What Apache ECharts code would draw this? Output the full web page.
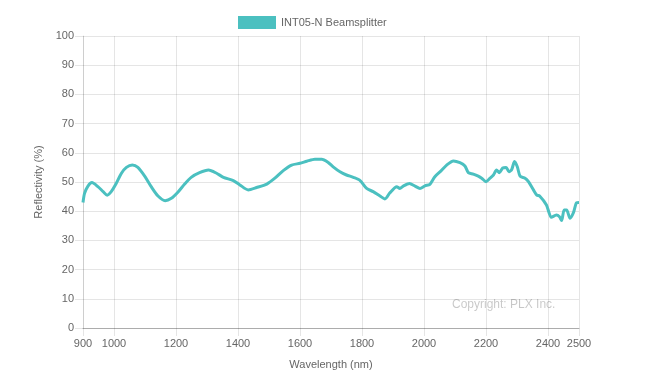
<!DOCTYPE html>
<html>
<head>
<meta charset="utf-8">
<title>INT05-N Beamsplitter</title>
<script src="https://cdn.jsdelivr.net/npm/echarts@6/dist/echarts.min.js"></script>
<style>
  html, body { margin: 0; padding: 0; background: #fff; }
  #chart { width: 654px; height: 388px; }
</style>
</head>
<body>
<div id="chart"></div>
<script>
// wavelength (nm) and reflectivity (%)
const wavelengths = [
  900, 905, 916, 929, 948, 965, 978, 991, 1007, 1024, 1040, 1059, 1077, 1099,
  1120, 1142, 1165, 1185, 1206, 1228, 1249, 1276, 1305, 1331, 1353, 1385, 1406,
  1433, 1460, 1493, 1519, 1546, 1573, 1600, 1622, 1648, 1670, 1690, 1707, 1729,
  1750, 1772, 1794, 1815, 1836, 1858, 1874, 1890, 1912, 1922, 1933, 1953, 1971,
  1987, 2003, 2019, 2035, 2055, 2073, 2095, 2116, 2132, 2143, 2159, 2175, 2186,
  2200, 2213, 2224, 2234, 2243, 2254, 2265, 2274, 2283, 2292, 2301, 2310, 2326,
  2337, 2353, 2364, 2373, 2395, 2411, 2427, 2437, 2444, 2452, 2460, 2471, 2482,
  2492, 2500
];
const reflectivity = [
  43.0, 46.1, 48.6, 49.8, 48.4, 46.7, 45.5, 46.7, 49.5, 53.0, 55.0, 55.8, 55.0, 52.0,
  48.4, 45.2, 43.6, 44.4, 46.5, 49.3, 51.6, 53.2, 54.1, 53.0, 51.6, 50.5, 49.0,
  47.3, 48.1, 49.3, 51.3, 53.9, 55.8, 56.4, 57.1, 57.8, 57.8, 56.8, 55.2, 53.5,
  52.4, 51.6, 50.5, 47.8, 46.7, 45.2, 44.2, 46.3, 48.4, 47.8, 48.6, 49.5, 48.6,
  47.8, 48.7, 49.2, 51.8, 53.8, 55.8, 57.2, 56.6, 55.5, 53.2, 52.7, 52.0, 51.3,
  50.1, 51.3, 52.4, 54.1, 53.2, 54.8, 55.0, 53.5, 54.3, 57.0, 55.2, 52.0, 51.3,
  50.1, 47.3, 45.5, 45.2, 42.1, 37.9, 38.7, 38.1, 36.8, 40.4, 40.4, 37.6, 39.5,
  42.9, 43.0
];
const xTicks = [900, 1000, 1200, 1400, 1600, 1800, 2000, 2200, 2400, 2500];
const seriesName = 'INT05-N Beamsplitter';

const teal = 'rgb(75,192,192)';
const gridColor = 'rgba(0,0,0,0.1)';
const font = '"Liberation Sans", Arial, sans-serif';

let chart = echarts.init(document.getElementById('chart'));
chart.setOption({
  animation: false,
  textStyle: { fontFamily: font },
  grid: { left: 83, right: 75, top: 36, bottom: 60 },
  legend: {
    left: 233,
    top: 11,
    itemWidth: 38,
    itemHeight: 13,
    data: [{ name: seriesName, icon: 'rect' }],
    textStyle: { color: '#666', fontSize: 11, fontFamily: font }
  },
  xAxis: {
    type: 'value',
    min: 900,
    max: 2500,
    interval: 100,
    name: 'Wavelength (nm)',
    nameLocation: 'middle',
    nameGap: 31,
    nameTextStyle: { color: '#666', fontSize: 11 },
    axisLine: { lineStyle: { color: 'rgba(0,0,0,0.25)' } },
    axisTick: { show: true, length: 8, customValues: xTicks, lineStyle: { color: gridColor } },
    axisLabel: {
      customValues: xTicks,
      color: '#666',
      fontSize: 11,
      margin: 10,
      formatter: v => String(v)
    },
    splitLine: { show: true, lineStyle: { color: gridColor } }
  },
  yAxis: {
    type: 'value',
    min: 0,
    max: 100,
    interval: 10,
    name: 'Reflectivity (%)',
    nameLocation: 'middle',
    nameGap: 30,
    nameTextStyle: { color: '#666', fontSize: 11 },
    axisLine: { show: true, lineStyle: { color: gridColor } },
    axisTick: { show: true, length: 8, lineStyle: { color: gridColor } },
    axisLabel: { color: '#666', fontSize: 11, margin: 9 },
    splitLine: { show: true, lineStyle: { color: gridColor } }
  },
  graphic: [{
    type: 'text',
    left: 452,
    top: 299,
    style: { text: 'Copyright: PLX Inc.', fill: 'rgba(0,0,0,0.22)', font: '12px ' + font }
  }],
  series: [{
    name: seriesName,
    type: 'line',
    data: wavelengths.map((w, i) => [w, reflectivity[i]]),
    showSymbol: false,
    smooth: 0.25,
    itemStyle: { color: teal },
    lineStyle: { color: teal, width: 3 }
  }]
});
</script>
</body>
</html>
